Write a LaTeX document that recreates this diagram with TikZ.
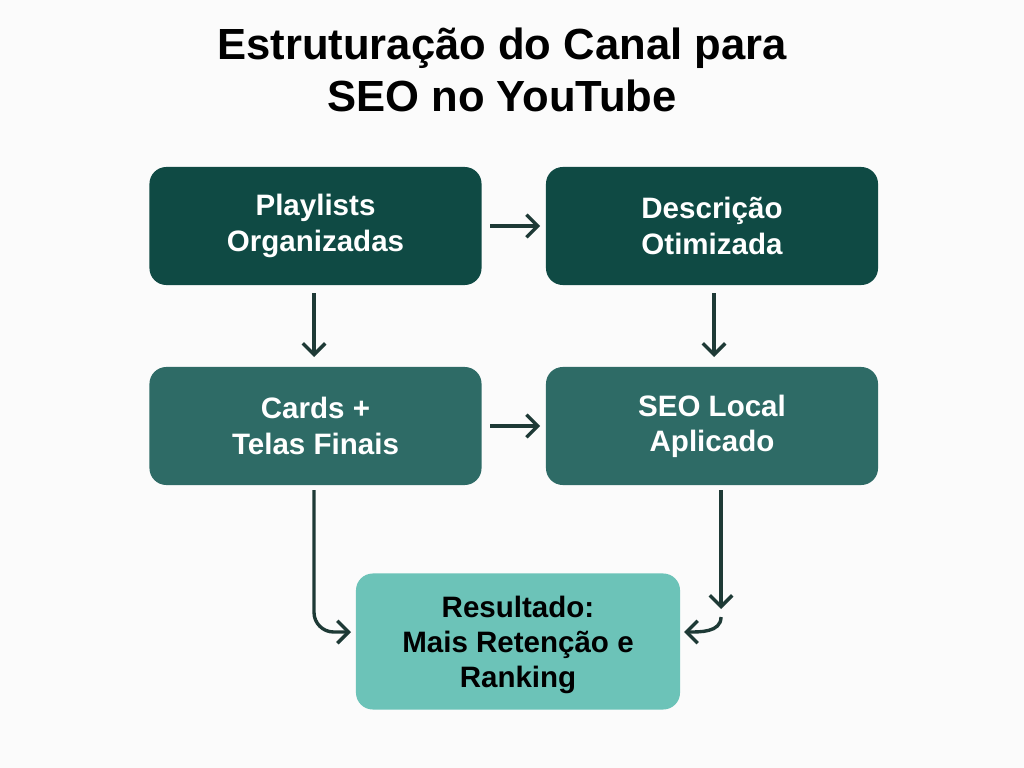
\documentclass[tikz,border=0pt]{standalone}
\usepackage{fontspec}
\setmainfont{Liberation Sans}
\usetikzlibrary{positioning,arrows.meta}
\definecolor{darkteal}{HTML}{0F4A44}
\definecolor{midteal}{HTML}{2E6B66}
\definecolor{lightteal}{HTML}{6CC3B8}
\definecolor{linecol}{HTML}{1E3A36}
\tikzset{
  box/.style={rounded corners=12pt, minimum width=8.3cm, minimum height=2.95cm, align=center, font=\bfseries\fontsize{21}{25}\selectfont},
  flow/.style={-{Straight Barb[length=8pt,width=16pt]}, line width=2.4pt, draw=linecol}
}
\begin{document}
\begin{tikzpicture}[x=0.025cm,y=-0.025cm]
  \useasboundingbox[fill=white!97!gray] (0,0) rectangle (1024,768);
  % title
  \node (title) at (502,70) [align=center, font=\bfseries\fontsize{31}{37}\selectfont] {Estruturação do Canal para\\SEO no YouTube};
  % boxes
  \node (play) at (315.5,226) [box, fill=darkteal, text=white] {Playlists\\Organizadas};
  \node (desc) at (712,226) [box, fill=darkteal, text=white] {Descrição\\Otimizada};
  \node (cards) at (315.5,426) [box, fill=midteal, text=white] {Cards +\\Telas Finais};
  \node (local) at (712,426) [box, fill=midteal, text=white] {SEO Local\\Aplicado};
  \node (res) at (518,641.5) [box, minimum width=8.1cm, minimum height=3.4cm, fill=lightteal, text=black, text depth=0pt] {Resultado:\\Mais Retenção e\\Ranking};
  % connectors
  \coordinate (leftin) at (351,632);
  \coordinate (rightin) at (684,632);
  \draw[flow] ([xshift=6pt]play.east) -- ([xshift=-4pt]desc.west);
  \draw[flow] ([xshift=6pt]cards.east) -- ([xshift=-4pt]local.west);
  \draw[flow] (314,293) -- (314,357);
  \draw[flow] (714,293) -- (714,357);
  \draw[flow, rounded corners=14pt] (314,490) |- (leftin);
  \coordinate (bend) at (721,609);
  \draw[flow] (721,490) -- (bend);
  \draw[flow] (721,617) to[out=-90,in=0] (rightin);
\end{tikzpicture}
\end{document}
